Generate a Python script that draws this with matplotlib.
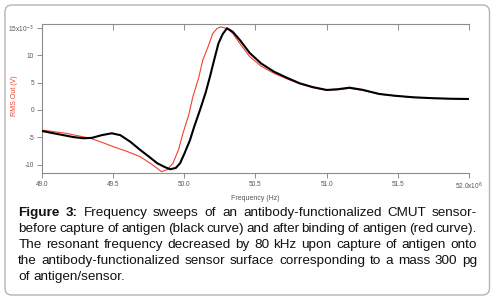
import matplotlib
matplotlib.use('Agg')
import matplotlib.pyplot as plt
from matplotlib.patches import FancyBboxPatch

# curve data (frequency in MHz, RMS out in mV)
freq_before = [49.00, 49.08, 49.15, 49.22, 49.29, 49.35, 49.42, 49.49, 49.55, 49.62,
               49.69, 49.75, 49.81, 49.86, 49.90, 49.94, 49.97, 50.00, 50.04, 50.07,
               50.11, 50.15, 50.18, 50.21, 50.24, 50.27, 50.30, 50.34, 50.39, 50.46,
               50.54, 50.63, 50.72, 50.81, 50.90, 51.00, 51.08, 51.16, 51.25, 51.37,
               51.48, 51.61, 51.75, 51.88, 52.00]
rms_before = [-3.84, -4.25, -4.6, -4.95, -5.17, -5.1, -4.6, -4.26, -4.6, -5.8,
              -7.3, -8.5, -9.74, -10.4, -10.84, -10.6, -9.74, -8.0, -5.48, -3.0,
              0.0, 3.2, 6.09, 9.2, 12.2, 13.9, 14.94, 14.3, 12.8, 10.4,
              8.5, 7.0, 5.9, 4.88, 4.2, 3.66, 3.8, 4.08, 3.7, 2.93,
              2.6, 2.32, 2.15, 2.05, 2.01]

freq_after = [49.00, 49.08, 49.17, 49.25, 49.34, 49.42, 49.50, 49.60, 49.69, 49.77,
              49.84, 49.88, 49.92, 49.96, 49.99, 50.03, 50.06, 50.10, 50.13, 50.17,
              50.20, 50.23, 50.255, 50.30, 50.34, 50.40, 50.46, 50.54, 50.63, 50.72,
              50.81, 50.90, 51.00, 51.08, 51.16, 51.25, 51.37, 51.48, 51.61, 51.75,
              51.88, 52.00]
rms_after = [-3.66, -3.95, -4.26, -4.7, -5.17, -5.9, -6.7, -7.6, -8.54, -9.9,
             -11.28, -10.9, -9.74, -7.2, -4.26, -1.0, 2.43, 5.8, 9.14, 11.8,
             14.0, 14.9, 15.2, 14.9, 14.0, 11.8, 9.74, 8.0, 6.7, 5.7,
             4.8, 4.1, 3.6, 3.7, 3.95, 3.6, 2.9, 2.6, 2.3, 2.15,
             2.05, 2.0]

x_ticks = [49.0, 49.5, 50.0, 50.5, 51.0, 51.5, 52.0]
x_labels = ['49.0', '49.5', '50.0', '50.5', '51.0', '51.5', r'52.0x10$^{6}$']
y_ticks = [-10, -5, 0, 5, 10, 15]
y_labels = ['-10', '-5', '0', '5', '10', r'15x10$^{-3}$']

caption = [
    [("Figure 3:", 'bold'), ("Frequency sweeps of an antibody-functionalized CMUT sensor-", 'normal')],
    [("before capture of antigen (black curve) and after binding of antigen (red curve).", 'normal')],
    [("The resonant frequency decreased by 80 kHz upon capture of antigen onto", 'normal')],
    [("the antibody-functionalized sensor surface corresponding to a mass 300 pg", 'normal')],
    [("of antigen/sensor.", 'normal')],
]

W, H = 496, 304
fig = plt.figure(figsize=(W / 100, H / 100), dpi=100)
plt.rcParams['font.family'] = ['Liberation Sans', 'DejaVu Sans']

# rounded frame round the whole figure
frame = FancyBboxPatch((5 / 100, 9 / 100), 484.5 / 100, 290 / 100,
                       boxstyle='round,pad=0,rounding_size=0.07',
                       transform=fig.dpi_scale_trans, facecolor='none',
                       edgecolor='#b4b4b4', linewidth=1.0)
fig.patches.append(frame)

ax = fig.add_axes([42 / W, 1 - 173 / H, (469 - 42) / W, (173 - 24.5) / H])
ax.plot(freq_after, rms_after, color='#f4402c', linewidth=0.8, zorder=2)
ax.plot(freq_before, rms_before, color='black', linewidth=1.5, zorder=3)
ax.set_xlim(49, 52)
ax.set_ylim(-11.52, 15.63)

spine_col = '#8c8c8c'
for s in ['right', 'top']:
    ax.spines[s].set_visible(False)
for s in ['left', 'bottom']:
    ax.spines[s].set_color(spine_col)
    ax.spines[s].set_linewidth(0.8)

ax.set_xticks(x_ticks)
ax.set_xticklabels(x_labels)
ax.set_yticks(y_ticks)
ax.set_yticklabels(y_labels)
ax.tick_params(direction='out', length=3.6, width=0.7, color=spine_col,
               labelsize=4.7, labelcolor='#555555', pad=2)

top = ax.secondary_xaxis('top')
top.set_xticks(x_ticks)
top.tick_params(direction='in', length=4.3, width=0.7, color=spine_col, labeltop=False)
top.spines['top'].set_color(spine_col)
top.spines['top'].set_linewidth(0.8)

ax.set_xlabel('Frequency (Hz)', fontsize=5, color='#555555', labelpad=2)
fig.text(15 / W, 1 - 96 / H, 'RMS Out (V)', rotation=90, fontsize=5,
         color='#f4402c', ha='center', va='center')

# justified caption, word by word
renderer = fig.canvas.get_renderer()
left_px, right_px = 18.3, 477
baselines = [216, 232, 248, 264, 280]
fs = 9.7
for li, line in enumerate(caption):
    words = []
    for txt, weight in line:
        for w in txt.split():
            words.append((w, weight))
    arts = []
    for w, weight in words:
        t = fig.text(0, 1 - baselines[li] / H, w, fontsize=fs, fontweight=weight,
                     color='#111111', va='baseline', ha='left')
        arts.append(t)
    widths = [a.get_window_extent(renderer).width for a in arts]
    if li < len(caption) - 1:
        gap = (right_px - left_px - sum(widths)) / (len(arts) - 1)
    else:
        gap = fs * 100 / 72 * 0.278
    x = left_px
    for a, wd in zip(arts, widths):
        a.set_x(x / W)
        x += wd + gap

fig.savefig('out.png', dpi=100)
